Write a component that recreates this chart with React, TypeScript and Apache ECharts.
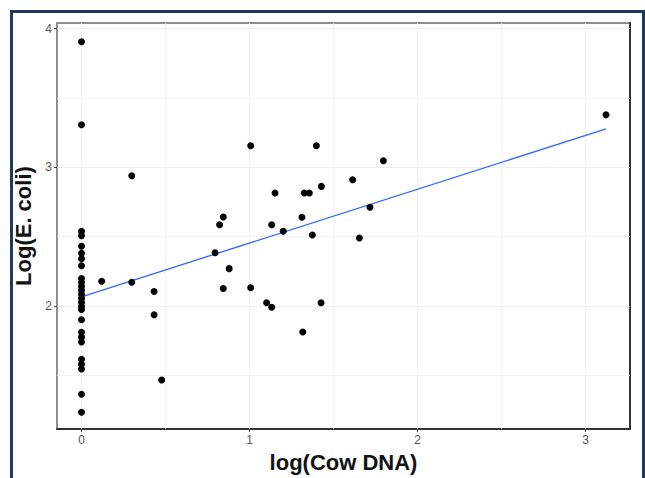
import React, { useEffect, useRef } from "react";
import * as echarts from "echarts";

// log(Cow DNA) values
const cowDNA: number[] = [
  0, 0, 0, 0, 0, 0, 0, 0, 0, 0, 0, 0, 0, 0, 0, 0, 0, 0, 0, 0, 0, 0, 0, 0, 0, 0,
  0.12, 0.299, 0.299, 0.432, 0.432, 0.477, 0.795, 0.822, 0.844, 0.844, 0.879,
  1.007, 1.007, 1.102, 1.132, 1.152, 1.132, 1.201, 1.312, 1.317, 1.326, 1.356,
  1.374, 1.398, 1.428, 1.426, 1.614, 1.654, 1.717, 1.797, 3.122,
];
// Log(E. coli) values
const ecoli: number[] = [
  3.905, 3.306, 2.538, 2.507, 2.43, 2.38, 2.34, 2.29, 2.198, 2.169, 2.14, 2.112,
  2.083, 2.054, 2.025, 1.996, 1.975, 1.9, 1.81, 1.775, 1.74, 1.615, 1.579, 1.545,
  1.363, 1.234,
  2.178, 2.939, 2.171, 2.104, 1.937, 1.466, 2.383, 2.586, 2.641, 2.126, 2.269,
  3.155, 2.131, 2.023, 1.991, 2.814, 2.586, 2.538, 2.639, 1.812, 2.814, 2.814,
  2.512, 3.155, 2.862, 2.023, 2.91, 2.49, 2.711, 3.047, 3.378,
];

// linear fit
const fitIntercept = 2.066;
const fitSlope = 0.3876;

const xTicks = [0, 1, 2, 3];
const yTicks = [2, 3, 4];
const xGridMajor = [0, 1, 2, 3];
const xGridMinor = [0.5, 1.5, 2.5];
const yGridMajor = [2, 3, 4];
const yGridMinor = [1.5, 2.5, 3.5];

const xRange = [-0.146, 3.265];
const yRange = [1.112, 4.04];

export default function App() {
  const ref = useRef<HTMLDivElement>(null);
  useEffect(() => {
    if (!ref.current) return;
    const chart = echarts.init(ref.current, null, { renderer: "svg" });
    const pts = cowDNA.map((x, i) => [x, ecoli[i]]);
    const xMax = Math.max(...cowDNA);
    const xMin = Math.min(...cowDNA);
    const fitData = [
      [xMin, fitIntercept + fitSlope * xMin],
      [xMax, fitIntercept + fitSlope * xMax],
    ];
    const font = "'Liberation Sans', Arial, sans-serif";
    const gridLine = (w: number) => ({ color: "#efefef", width: w, type: "solid" as const });
    const markData: any[] = [
      ...xGridMajor.map((v) => ({ xAxis: v, lineStyle: gridLine(1) })),
      ...xGridMinor.map((v) => ({ xAxis: v, lineStyle: gridLine(0.7) })),
      ...yGridMajor.map((v) => ({ yAxis: v, lineStyle: gridLine(1) })),
      ...yGridMinor.map((v) => ({ yAxis: v, lineStyle: gridLine(0.7) })),
    ];
    chart.setOption({
      animation: false,
      backgroundColor: "#ffffff",
      textStyle: { fontFamily: font },
      grid: {
        left: 57,
        top: 23,
        right: 15,
        bottom: 48,
        show: true,
        borderColor: "#8e8e8e",
        borderWidth: 2,
        backgroundColor: "#ffffff",
      },
      graphic: [
        {
          type: "rect",
          shape: { x: 11.5, y: 11.5, width: 632, height: 480 },
          style: { fill: "none", stroke: "#1f3a60", lineWidth: 3 },
          silent: true,
          z: 100,
        },
      ],
      xAxis: {
        type: "value",
        min: xRange[0],
        max: xRange[1],
        name: "log(Cow DNA)",
        nameLocation: "middle",
        nameGap: 21,
        nameTextStyle: { fontSize: 22, fontWeight: "bold", color: "#111", fontFamily: font },
        axisLine: { show: true, onZero: false, lineStyle: { color: "#333", width: 2 } },
        axisTick: { show: true, customValues: xTicks, length: 3, lineStyle: { color: "#444" } },
        axisLabel: { customValues: xTicks, margin: 5, fontSize: 12, color: "#555", fontFamily: font, formatter: (v: number) => String(v) },
        splitLine: { show: false },
      },
      yAxis: [
        {
          type: "value",
          min: yRange[0],
          max: yRange[1],
          name: "Log(E. coli)",
          nameLocation: "middle",
          nameGap: 19,
          nameRotate: 90,
          nameTextStyle: { fontSize: 22, fontWeight: "bold", color: "#111", fontFamily: font },
          axisLine: { show: true, onZero: false, lineStyle: { color: "#8e8e8e", width: 2 } },
          axisTick: { show: true, customValues: yTicks, length: 3, lineStyle: { color: "#444" } },
          axisLabel: { customValues: yTicks, margin: 5, fontSize: 12, color: "#555", fontFamily: font, formatter: (v: number) => String(v) },
          splitLine: { show: false },
        },
        {
          type: "value",
          position: "right",
          min: yRange[0],
          max: yRange[1],
          axisLine: { show: true, onZero: false, lineStyle: { color: "#333", width: 2 } },
          axisTick: { show: false },
          axisLabel: { show: false },
          splitLine: { show: false },
        },
      ],
      series: [
        {
          type: "scatter",
          data: pts,
          symbolSize: 7,
          itemStyle: { color: "#000000", opacity: 1 },
          z: 5,
          silent: true,
          markLine: {
            silent: true,
            symbol: ["none", "none"],
            label: { show: false },
            animation: false,
            z: 1,
            data: markData,
          },
        },
        {
          type: "line",
          data: fitData,
          symbol: "none",
          lineStyle: { color: "#3366ff", width: 1.3 },
          z: 4,
          silent: true,
        },
      ],
    });
    return () => chart.dispose();
  }, []);
  return (
    <div
      ref={ref}
      style={{ position: "fixed", left: 0, top: 0, width: 645, height: 478 }}
    />
  );
}
